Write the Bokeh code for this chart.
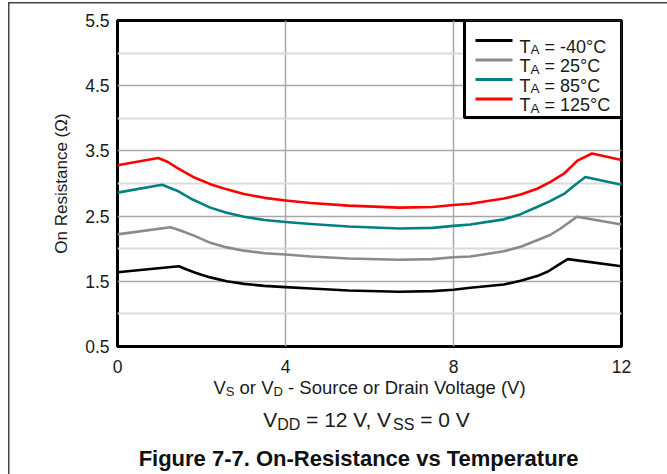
from bokeh.plotting import figure
from bokeh.layouts import column
from bokeh.models import Range1d, FixedTicker, Grid, Label
from bokeh.embed import file_html
from bokeh.resources import INLINE
from bokeh.core.properties import value

# ---------------- data ----------------
v_m40 = [0, 1.46, 1.65, 1.82, 2.0, 2.21, 2.6, 3.01, 3.5, 4.0, 4.6, 5.5, 6.7, 7.5, 8.0, 8.4, 9.2, 9.6, 9.99, 10.25, 10.47, 10.72, 12]
r_m40 = [1.64, 1.73, 1.68, 1.64, 1.60, 1.56, 1.50, 1.46, 1.43, 1.41, 1.39, 1.36, 1.34, 1.35, 1.37, 1.40, 1.45, 1.51, 1.58, 1.65, 1.74, 1.84, 1.73]

v_25 = [0, 1.26, 1.5, 1.82, 2.21, 2.6, 3.01, 3.5, 4.0, 4.6, 5.5, 6.7, 7.5, 8.0, 8.4, 9.2, 9.6, 9.99, 10.3, 10.55, 10.94, 12]
r_25 = [2.22, 2.33, 2.28, 2.20, 2.09, 2.02, 1.97, 1.93, 1.91, 1.88, 1.85, 1.83, 1.84, 1.87, 1.88, 1.96, 2.03, 2.13, 2.21, 2.31, 2.49, 2.37]

v_85 = [0, 1.06, 1.42, 1.8, 2.21, 2.6, 3.01, 3.5, 4.0, 4.6, 5.5, 6.7, 7.5, 8.0, 8.4, 9.2, 9.6, 9.99, 10.3, 10.63, 10.9, 11.14, 12]
r_85 = [2.86, 2.98, 2.89, 2.75, 2.63, 2.55, 2.49, 2.44, 2.41, 2.38, 2.34, 2.31, 2.32, 2.35, 2.37, 2.45, 2.53, 2.64, 2.73, 2.84, 2.98, 3.10, 2.98]

v_125 = [0, 0.97, 1.2, 1.42, 1.8, 2.21, 2.6, 3.01, 3.5, 4.0, 4.6, 5.5, 6.7, 7.5, 8.0, 8.4, 9.2, 9.6, 9.99, 10.3, 10.63, 10.95, 11.3, 12]
r_125 = [3.28, 3.39, 3.33, 3.24, 3.10, 2.99, 2.91, 2.84, 2.78, 2.74, 2.70, 2.66, 2.63, 2.64, 2.67, 2.69, 2.77, 2.83, 2.92, 3.02, 3.15, 3.35, 3.46, 3.36]

legend_temps = ["-40°C", "25°C", "85°C", "125°C"]
x_ticks = [0, 4, 8, 12]
y_ticks = [0.5, 1.5, 2.5, 3.5, 4.5, 5.5]
y_minor_grid = [1.0, 2.0, 3.0, 4.0, 5.0]
x_grid = [4, 8]
y_grid = [1.5, 2.5, 3.5, 4.5]

series = [
    (v_m40, r_m40, "#000000"),
    (v_25, r_25, "#8a8a8a"),
    (v_85, r_85, "#008080"),
    (v_125, r_125, "#ff0000"),
]

# ---------------- layout ----------------
W = 667
H1, H2 = 376, 98
FL, FT, FW, FH = 117, 20, 504, 326
X0, X1, Y0, Y1 = 0, 12, 0.5, 5.5
FONT = "Liberation Sans"
NB = "\u00a0"


def dx(cx):
    return X0 + (cx - FL) / FW * (X1 - X0)


def dy(cy):
    return Y1 - (cy - FT) / FH * (Y1 - Y0)


AW = {' ': 278, NB: 278, '(': 333, ')': 333, ',': 278, '-': 333, '.': 278, '=': 584, '°': 400,
      'A': 667, 'C': 722, 'D': 722, 'S': 667, 'T': 611, 'V': 667, 'a': 556, 'c': 500,
      'e': 556, 'g': 556, 'i': 222, 'l': 222, 'n': 556, 'o': 556, 'r': 333, 't': 278,
      'u': 556}


def tw(s, fs):
    return sum(AW.get(ch, 556) for ch in s) / 1000.0 * fs


p = figure(width=W, height=H1, output_backend="svg", toolbar_location=None,
           x_range=Range1d(X0, X1), y_range=Range1d(Y0, Y1),
           min_border_left=FL, min_border_top=FT,
           min_border_right=W - FL - FW, min_border_bottom=H1 - FT - FH)
p.background_fill_color = "white"
p.border_fill_alpha = 0
p.outline_line_color = "black"
p.outline_line_width = 3

for ax in (p.xaxis[0], p.yaxis[0]):
    ax.axis_line_color = None
    ax.major_tick_line_color = None
    ax.minor_tick_line_color = None
    ax.major_label_text_font = FONT
    ax.major_label_text_font_size = "17.5px"
    ax.major_label_text_color = "#1a1a1a"

p.xaxis.ticker = FixedTicker(ticks=x_ticks)
p.yaxis.ticker = FixedTicker(ticks=y_ticks)
p.xaxis.major_label_standoff = 7
p.yaxis.major_label_standoff = 2
p.yaxis.axis_label = "On Resistance (Ω)"
p.yaxis.axis_label_text_font = FONT
p.yaxis.axis_label_text_font_size = "17px"
p.yaxis.axis_label_text_font_style = "normal"
p.yaxis.axis_label_text_color = "#1a1a1a"
p.yaxis.axis_label_standoff = 11

p.xgrid.ticker = FixedTicker(ticks=x_grid)
p.ygrid.ticker = FixedTicker(ticks=y_grid)
for g in (p.xgrid[0], p.ygrid[0]):
    g.grid_line_color = "#a8a8a8"
    g.grid_line_width = 1.5
minor = Grid(dimension=1, ticker=FixedTicker(ticks=y_minor_grid),
             grid_line_color="#dadada", grid_line_width=2)
p.add_layout(minor)

for v, r, c in series:
    p.line(v, r, line_color=c, line_width=2.6, line_join="round")

# ---------------- legend (manual, to allow subscripts) ----------------
p.quad(left=dx(464), right=X1, top=Y1, bottom=dy(117),
       fill_color="white", line_color="black", line_width=3)
row_y = [40, 59.5, 79, 98.5]
for (v, r, c), ry in zip(series, row_y):
    p.segment(x0=dx(475), y0=dy(ry), x1=dx(512), y1=dy(ry), line_color=c, line_width=3)

LFS, LSFS = 18, 13.5
for t, ry in zip(legend_temps, row_y):
    x = 519
    for s, sub in [("T", False), ("A", True), (NB + "=" + NB + t, False)]:
        fs = LSFS if sub else LFS
        p.add_layout(Label(x=dx(x), y=dy(ry + 6.3 + (3 if sub else 0)), text=s,
                           text_font=FONT, text_font_size=f"{fs}px",
                           text_color="#1a1a1a", text_align="left",
                           text_baseline="alphabetic"))
        x += tw(s, fs)

# ---------------- text panel below the chart ----------------
# its frame is aligned with the chart's frame, so data x == page x
q = figure(width=W, height=H2, output_backend="svg", toolbar_location=None,
           x_range=Range1d(FL, FL + FW), y_range=Range1d(H2, 0),
           x_axis_location=None, y_axis_location=None,
           min_border_left=FL, min_border_right=W - FL - FW,
           min_border_top=0, min_border_bottom=0)
q.grid.visible = False
q.outline_line_color = None
q.background_fill_alpha = 0
q.border_fill_alpha = 0


def rich(pieces, cx, base, fs, sfs, sdy):
    total = sum(tw(s, sfs if sub else fs) for s, sub in pieces)
    x = cx - total / 2.0
    for s, sub in pieces:
        size = sfs if sub else fs
        q.text(x=[x], y=[base + (sdy if sub else 0)], text=[s],
               text_font=value(FONT), text_font_size=value(f"{size}px"),
               text_color="#1a1a1a", text_align="left", text_baseline="alphabetic")
        x += tw(s, size)


rich([("V", False), ("S", True), (NB + "or V", False), ("D", True),
      (NB + "- Source or Drain Voltage (V)", False)], 369.5, 11, 18.5, 13, 3.5)
rich([("V", False), ("DD", True), (NB + "=" + NB + "12 V, V", False), ("SS", True),
      (NB + "=" + NB + "0 V", False)], 366, 43, 21, 16, 4.5)
q.text(x=[358], y=[82], text=["Figure 7-7. On-Resistance vs Temperature"],
       text_font=value(FONT), text_font_size=value("22px"), text_font_style="bold",
       text_color="#111111", text_align="center", text_baseline="alphabetic")

layout = column(p, q)
layout.styles = {
    "background": "linear-gradient(#444, #444) 8px 2px / 1.5px 100% no-repeat, "
                  "linear-gradient(#444, #444) 8px 2px / 100% 1.5px no-repeat, #ffffff"
}

open("out.html", "w").write(file_html(layout, INLINE))
